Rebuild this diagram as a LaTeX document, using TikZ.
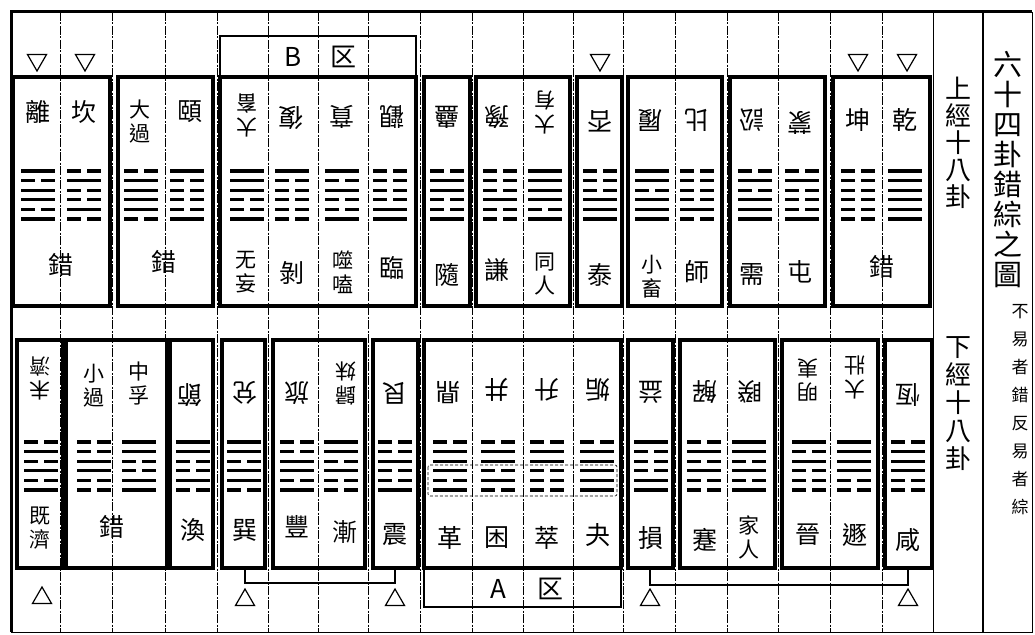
\documentclass[tikz,border=0pt]{standalone}
\usepackage{fontspec}
\newfontfamily\cjk{Noto Sans CJK TC}
\usetikzlibrary{shapes.geometric}

\tikzset{
  cornice/.style={line width=3.4pt},
  colonna/.style={line width=0.5pt, dash pattern=on 9pt off 1.5pt on 2pt off 1.5pt},
  yao/.style={line width=3.2pt},
  nome/.style={font=\cjk\fontsize{25}{28}\selectfont, align=center, inner sep=0pt},
  doppio/.style={font=\cjk\fontsize{21}{24}\selectfont, align=center, inner sep=0pt},
  rov/.style={rotate=180},
  lettera/.style={font=\cjk\fontsize{26}{28}\selectfont, inner sep=0pt},
  giu/.style={draw, regular polygon, regular polygon sides=3, shape border rotate=180, minimum size=22pt, inner sep=0pt, line width=1.2pt},
  su/.style={draw, regular polygon, regular polygon sides=3, minimum size=22pt, inner sep=0pt, line width=1.2pt},
  staffa/.style={line width=1.5pt}
}

% esagramma: x centro, y prima linea, linee dall'alto (1 = intera, 0 = spezzata)
\newcommand{\gua}[3]{%
  \foreach \b [count=\i] in {#3} {%
    \ifnum\b=1
      \draw[yao] ({#1-17},{#2+(\i-1)*9.6}) -- ({#1+17},{#2+(\i-1)*9.6});
    \else
      \draw[yao] ({#1-17},{#2+(\i-1)*9.6}) -- ({#1-3},{#2+(\i-1)*9.6});
      \draw[yao] ({#1+3},{#2+(\i-1)*9.6}) -- ({#1+17},{#2+(\i-1)*9.6});
    \fi
  }%
}

\begin{document}
\begin{tikzpicture}[x=1pt, y=-1pt]
  \useasboundingbox (0,0) rectangle (1035,634);

  % griglia delle colonne
  \foreach \cx in {60,112,165,217,268,318,368,420,472,523,573,623,675,727,778,830,882}
    \draw[colonna] (\cx,12) -- (\cx,632);
  \draw[line width=0.6pt] (933,12) -- (933,632);
  \draw[line width=2.5pt] (983,12) -- (983,632);
  \draw[line width=3pt] (11,632) -- (11,12) -- (1032,12);
  \draw[line width=0.8pt] (11,632) -- (1032,632) -- (1032,12);

  % riquadri superiori
  \draw[cornice] (13,77) rectangle (110,306);
  \draw[cornice] (118,77) rectangle (213,306);
  \draw[cornice] (220,77) rectangle (416,306);
  \draw[line width=2.6pt] (220,36) rectangle (416,77);
  \draw[cornice] (424,77) rectangle (470,306);
  \draw[cornice] (476,77) rectangle (570,306);
  \draw[cornice] (577,77) rectangle (622,306);
  \draw[cornice] (628,77) rectangle (722,306);
  \draw[cornice] (730,77) rectangle (825,306);
  \draw[cornice] (833,77) rectangle (930,306);

  % riquadri inferiori
  \draw[cornice] (17,340) rectangle (63,568);
  \draw[cornice] (66,340) rectangle (167,568);
  \draw[cornice] (170,340) rectangle (213,568);
  \draw[cornice] (222,340) rectangle (265,568);
  \draw[cornice] (273,340) rectangle (365,568);
  \draw[cornice] (373,340) rectangle (418,568);
  \draw[cornice] (424,340) rectangle (621,568);
  \draw[line width=2.6pt] (424,568) rectangle (621,607);
  \draw[line width=0.6pt, densely dashed, rounded corners=2pt] (428,465) rectangle (617,496);
  \draw[cornice] (628,340) rectangle (673,568);
  \draw[cornice] (680,340) rectangle (775,568);
  \draw[cornice] (782,340) rectangle (878,568);
  \draw[cornice] (885,340) rectangle (932,568);

  % esagrammi superiori
  \gua{38}{171}{1,0,1,1,0,1}
  \gua{84}{171}{0,1,0,0,1,0}
  \gua{141}{171}{0,1,1,1,1,0}
  \gua{187}{171}{1,0,0,0,0,1}
  \gua{247}{171}{1,1,1,0,0,1}
  \gua{292}{171}{1,0,0,0,0,0}
  \gua{342}{171}{1,0,1,0,0,1}
  \gua{390}{171}{0,0,0,0,1,1}
  \gua{447}{171}{0,1,1,0,0,1}
  \gua{500}{171}{0,0,0,1,0,0}
  \gua{545}{171}{1,1,1,1,0,1}
  \gua{600}{171}{0,0,0,1,1,1}
  \gua{652}{171}{1,1,0,1,1,1}
  \gua{697}{171}{0,0,0,0,1,0}
  \gua{755}{171}{0,1,0,1,1,1}
  \gua{802}{171}{0,1,0,0,0,1}
  \gua{858}{171}{0,0,0,0,0,0}
  \gua{905}{171}{1,1,1,1,1,1}

  % esagrammi inferiori
  \gua{41}{442}{0,1,0,1,0,1}
  \gua{94}{442}{0,0,1,1,0,0}
  \gua{139}{442}{1,1,0,0,1,1}
  \gua{193}{442}{1,1,0,0,1,0}
  \gua{244}{442}{1,1,0,1,1,0}
  \gua{297}{442}{0,0,1,1,0,1}
  \gua{341}{442}{1,1,0,1,0,0}
  \gua{395}{442}{0,0,1,0,0,1}
  \gua{450}{442}{0,1,1,1,0,1}
  \gua{498}{442}{0,1,1,0,1,0}
  \gua{547}{442}{0,1,1,0,0,0}
  \gua{597}{442}{0,1,1,1,1,1}
  \gua{651}{442}{1,0,0,0,1,1}
  \gua{704}{442}{0,1,0,1,0,0}
  \gua{749}{442}{1,1,0,1,0,1}
  \gua{809}{442}{1,0,1,0,0,0}
  \gua{854}{442}{1,1,1,1,0,0}
  \gua{908}{442}{0,1,1,1,0,0}

  % nomi riga superiore
  \node[nome] (li) at (38,112) {離};
  \node[nome] (kan) at (84,112) {坎};
  \node[doppio] (daguo) at (140,122) {大\\過};
  \node[nome] (yi) at (190,112) {頤};
  \node[doppio, rov] (daxu) at (247,115) {大\\畜};
  \node[nome, rov] (fu) at (291,118) {復};
  \node[nome, rov] (bi) at (342,117) {賁};
  \node[nome, rov] (guan) at (392,117) {觀};
  \node[nome, rov] (gu) at (447,117) {蠱};
  \node[nome, rov] (yu) at (497,117) {豫};
  \node[doppio, rov] (dayou) at (545,112) {大\\有};
  \node[nome, rov] (pi) at (600,121) {否};
  \node[nome, rov] (lv) at (650,120) {履};
  \node[nome, rov] (bibi) at (697,120) {比};
  \node[nome, rov] (song) at (752,120) {訟};
  \node[nome, rov] (meng) at (800,123) {蒙};
  \node[nome] (kun) at (858,120) {坤};
  \node[nome] (qian) at (905,120) {乾};

  \node[nome] (cuoa) at (61,265) {錯};
  \node[nome] (cuob) at (164,262) {錯};
  \node[doppio] (wuwang) at (246,272) {无\\妄};
  \node[nome] (bo) at (292,273) {剝};
  \node[doppio] (shike) at (343,272) {噬\\嗑};
  \node[nome] (lin) at (392,268) {臨};
  \node[nome] (sui) at (447,275) {隨};
  \node[nome] (qianq) at (497,270) {謙};
  \node[doppio] (tongren) at (545,274) {同\\人};
  \node[nome] (tai) at (600,275) {泰};
  \node[doppio] (xiaoxu) at (652,277) {小\\畜};
  \node[nome] (shi) at (697,272) {師};
  \node[nome] (xu) at (752,275) {需};
  \node[nome] (zhun) at (800,272) {屯};
  \node[nome] (cuoc) at (882,267) {錯};

  % nomi riga inferiore
  \node[doppio, rov] (weiji) at (40,378) {未\\濟};
  \node[doppio] (xiaoguo) at (94,386) {小\\過};
  \node[doppio] (zhongfu) at (139,383) {中\\孚};
  \node[nome, rov] (jie) at (190,395) {節};
  \node[nome, rov] (dui) at (245,393) {兌};
  \node[nome, rov] (lvlv) at (297,393) {旅};
  \node[doppio, rov] (guimei) at (346,383) {歸\\妹};
  \node[nome, rov] (gen) at (395,393) {艮};
  \node[nome, rov] (ding) at (448,392) {鼎};
  \node[nome, rov] (jing) at (497,390) {井};
  \node[nome, rov] (sheng) at (547,390) {升};
  \node[nome, rov] (gou) at (598,390) {姤};
  \node[nome, rov] (yiyi) at (651,392) {益};
  \node[nome, rov] (jiejie) at (705,392) {解};
  \node[nome, rov] (kui) at (750,392) {睽};
  \node[doppio, rov] (mingyi) at (808,380) {明\\夷};
  \node[doppio, rov] (dazhuang) at (855,377) {大\\壯};
  \node[nome, rov] (heng) at (908,395) {恆};

  \node[doppio] (jiji) at (40,528) {既\\濟};
  \node[nome] (cuod) at (112,527) {錯};
  \node[nome] (huan) at (193,530) {渙};
  \node[nome] (xun) at (245,530) {巽};
  \node[nome] (feng) at (297,527) {豐};
  \node[nome] (jian) at (345,532) {漸};
  \node[nome] (zhen) at (395,535) {震};
  \node[nome] (ge) at (450,538) {革};
  \node[nome] (kunkun) at (497,538) {困};
  \node[nome] (cui) at (547,538) {萃};
  \node[nome] (guai) at (598,535) {夬};
  \node[nome] (sun) at (651,538) {損};
  \node[nome] (jianjian) at (705,540) {蹇};
  \node[doppio] (jiaren) at (749,537) {家\\人};
  \node[nome] (jin) at (808,535) {晉};
  \node[nome] (dun) at (855,535) {遯};
  \node[nome] (xian) at (908,540) {咸};

  % zone A e B
  \node[lettera] (bzona) at (293,57) {B};
  \node[lettera] (bqu) at (343,57) {区};
  \node[lettera] (azona) at (498,589) {A};
  \node[lettera] (aqu) at (550,589) {区};

  % triangoli
  \node[giu] (ta) at (37,60) {};
  \node[giu] (tb) at (85,60) {};
  \node[giu] (tc) at (600,60) {};
  \node[giu] (td) at (858,60) {};
  \node[giu] (te) at (907,60) {};
  \node[su] (tf) at (42,598) {};
  \node[su] (tg) at (245,600) {};
  \node[su] (th) at (395,600) {};
  \node[su] (ti) at (650,600) {};
  \node[su] (tj) at (908,600) {};

  % collegamenti
  \coordinate (xunpie) at (245,568);
  \coordinate (zhenpie) at (395,568);
  \coordinate (sunpie) at (650,568);
  \coordinate (xianpie) at (908,568);
  \draw[staffa] (xunpie) -- ++(0,15) -| (zhenpie);
  \draw[staffa] (sunpie) -- ++(0,17) -| (xianpie);

  % titoli verticali
  \node[font=\cjk\fontsize{26}{27}\selectfont, align=center, inner sep=0pt] (shangjing) at (958,143) {上\\經\\十\\八\\卦};
  \node[font=\cjk\fontsize{26}{28}\selectfont, align=center, inner sep=0pt] (xiajing) at (958,404) {下\\經\\十\\八\\卦};
  \node[font=\cjk\fontsize{29}{30}\selectfont, align=center, inner sep=0pt] (titolo) at (1008,170) {六\\十\\四\\卦\\錯\\綜\\之\\圖};
  \node[font=\cjk\fontsize{17}{28}\selectfont, align=center, inner sep=0pt] (nota) at (1020,410) {不\\易\\者\\錯\\反\\易\\者\\綜};
\end{tikzpicture}
\end{document}
